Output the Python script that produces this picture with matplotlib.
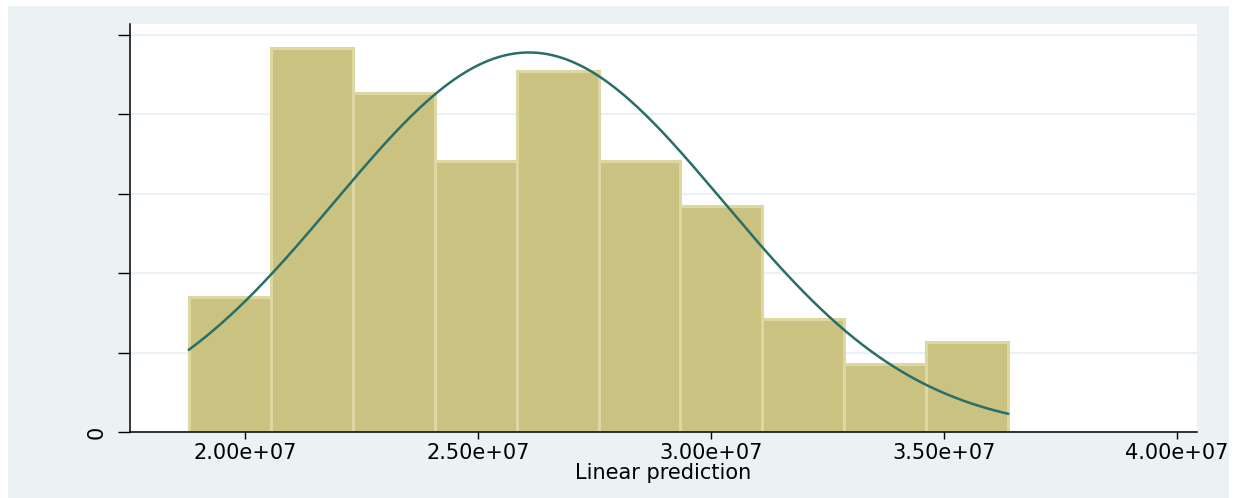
import numpy as np
import matplotlib.pyplot as plt
from matplotlib.patches import Rectangle

# histogram data: bin edges and counts, N = 100
bordas = [1.8798e7, 2.0556e7, 2.2313e7, 2.4071e7, 2.5828e7, 2.7586e7,
          2.9343e7, 3.1101e7, 3.2858e7, 3.4616e7, 3.6373e7]
contagens = [6, 17, 15, 12, 16, 12, 10, 5, 3, 4]

# normal curve fitted on the linear prediction
media = 2.6094e7
desvio = 4.173e6

yticks = [0, 2e-8, 4e-8, 6e-8, 8e-8, 1e-7]
xticks = [2.0e7, 2.5e7, 3.0e7, 3.5e7, 4.0e7]
xlabels = ['2.00e+07', '2.50e+07', '3.00e+07', '3.50e+07', '4.00e+07']

fig = plt.figure(figsize=(12.47, 4.98), dpi=100)
fig.patch.set_facecolor('white')
fundo = Rectangle((8 / 1247, 0), 1221 / 1247, 492 / 498,
                  transform=fig.transFigure, facecolor='#EAF2F3',
                  edgecolor='none', zorder=-10)
fig.add_artist(fundo)

ax = fig.add_axes([130 / 1247, 1 - 432 / 498, 1067 / 1247, 408 / 498])
ax.set_zorder(1)
ax.set_facecolor('white')

centros = [(bordas[i] + bordas[i + 1]) / 2 for i in range(len(contagens))]
ax.hist(centros, bins=bordas, weights=contagens, density=True,
        facecolor='#C9C281', edgecolor='#DDD8A3', linewidth=2.2, zorder=2)

xs = np.linspace(bordas[0], bordas[-1], 300)
ys = np.exp(-0.5 * ((xs - media) / desvio) ** 2) / (desvio * np.sqrt(2 * np.pi))
ax.plot(xs, ys, color='#2A6E68', linewidth=1.8, zorder=3)

ax.set_xlim(1.7532e7, 4.0429e7)
ax.set_ylim(0, 1.0277e-7)

ax.set_yticks(yticks)
ax.set_yticklabels(['0', '', '', '', '', ''], rotation=90, va='center')
ax.set_xticks(xticks)
ax.set_xticklabels(xlabels)
ax.tick_params(axis='y', length=9, width=1, pad=8, labelsize=15)
ax.tick_params(axis='x', length=5, width=1, pad=3, labelsize=15)
ax.yaxis.grid(True, color='#EAF2F3', linewidth=1.6, zorder=1)
ax.set_axisbelow(True)

for lado in ['top', 'right']:
    ax.spines[lado].set_visible(False)
for lado in ['left', 'bottom']:
    ax.spines[lado].set_linewidth(1.1)
    ax.spines[lado].set_zorder(4)

ax.set_xlabel('Linear prediction', fontsize=15, labelpad=0)

fig.savefig('out.png', dpi=100)
